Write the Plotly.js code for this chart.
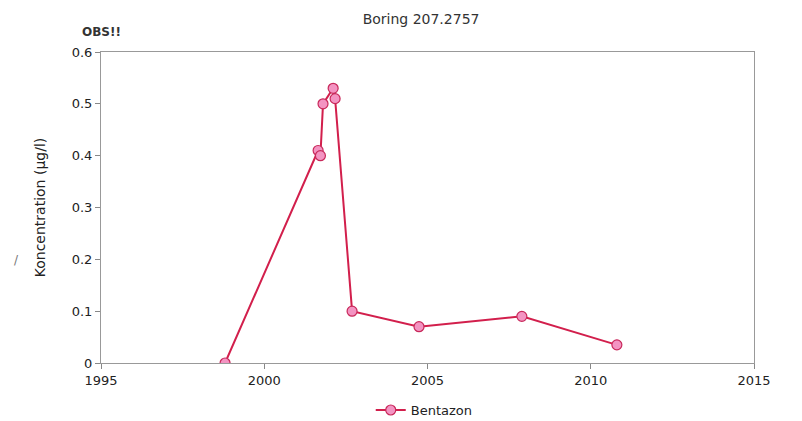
<!DOCTYPE html>
<html><head><meta charset="utf-8">
<script src="https://cdn.plot.ly/plotly-3.0.1.min.js"></script>
<style>html,body{margin:0;padding:0;background:#fff}</style>
</head><body>
<div id="chart" style="width:802px;height:421px"></div>
<script>
const years = [1998.80, 2001.65, 2001.72, 2001.80, 2002.11, 2002.17, 2002.69, 2004.74, 2007.89, 2010.80];
const bentazon = [0, 0.41, 0.40, 0.50, 0.53, 0.51, 0.10, 0.07, 0.09, 0.035];
const xTicks = [1995, 2000, 2005, 2010, 2015];
const yTicks = [0, 0.1, 0.2, 0.3, 0.4, 0.5, 0.6];
const yTickLabels = ['0', '0.1', '0.2', '0.3', '0.4', '0.5', '0.6'];

const font = 'DejaVu Sans, Verdana, sans-serif';
Plotly.newPlot('chart', [{
  x: years, y: bentazon, name: 'Bentazon', type: 'scatter', mode: 'lines+markers',
  line: {color: '#d21f4c', width: 2},
  marker: {color: '#f394c2', size: 10, line: {color: '#c8285a', width: 1.2}}
}], {
  width: 802, height: 421,
  margin: {l: 101, r: 48, t: 52, b: 58, autoexpand: false},
  paper_bgcolor: '#fff', plot_bgcolor: '#fff',
  font: {family: font, size: 13, color: '#222'},
  title: {text: 'Boring 207.2757', x: 0.525, xanchor: 'center', y: 0.955, yanchor: 'middle', font: {size: 14, color: '#333', family: font}},
  showlegend: true,
  legend: {orientation: 'h', x: 0.495, xanchor: 'center', yref: 'container', y: 0.026, yanchor: 'middle',
    font: {size: 13, color: '#222'}, itemwidth: 30, tracegroupgap: 0},
  xaxis: {range: [1995, 2015], tickvals: xTicks, ticktext: xTicks.map(String), showgrid: false, zeroline: false,
    showline: true, linecolor: '#999', mirror: true, ticks: 'outside', ticklen: 5, tickcolor: '#888',
    tickfont: {size: 13, color: '#222'}},
  yaxis: {range: [0, 0.6], tickvals: yTicks, ticktext: yTickLabels, showgrid: false, zeroline: false,
    showline: true, linecolor: '#999', mirror: true, ticks: 'outside', ticklen: 5, tickcolor: '#888',
    tickfont: {size: 13, color: '#222'},
    title: {text: 'Koncentration (µg/l)', font: {size: 14, color: '#222'}, standoff: 22}},
  annotations: [
    {text: '<b>OBS!!</b>', xref: 'paper', yref: 'paper', x: 0.0, y: 1.065, xanchor: 'center', yanchor: 'middle', showarrow: false, font: {size: 12, color: '#333'}},
    {text: '/', xref: 'paper', yref: 'paper', x: -0.13, y: 0.33, xanchor: 'center', yanchor: 'middle', showarrow: false, font: {size: 12, color: '#777'}}
  ]
}, {displayModeBar: false});
</script>
</body></html>
